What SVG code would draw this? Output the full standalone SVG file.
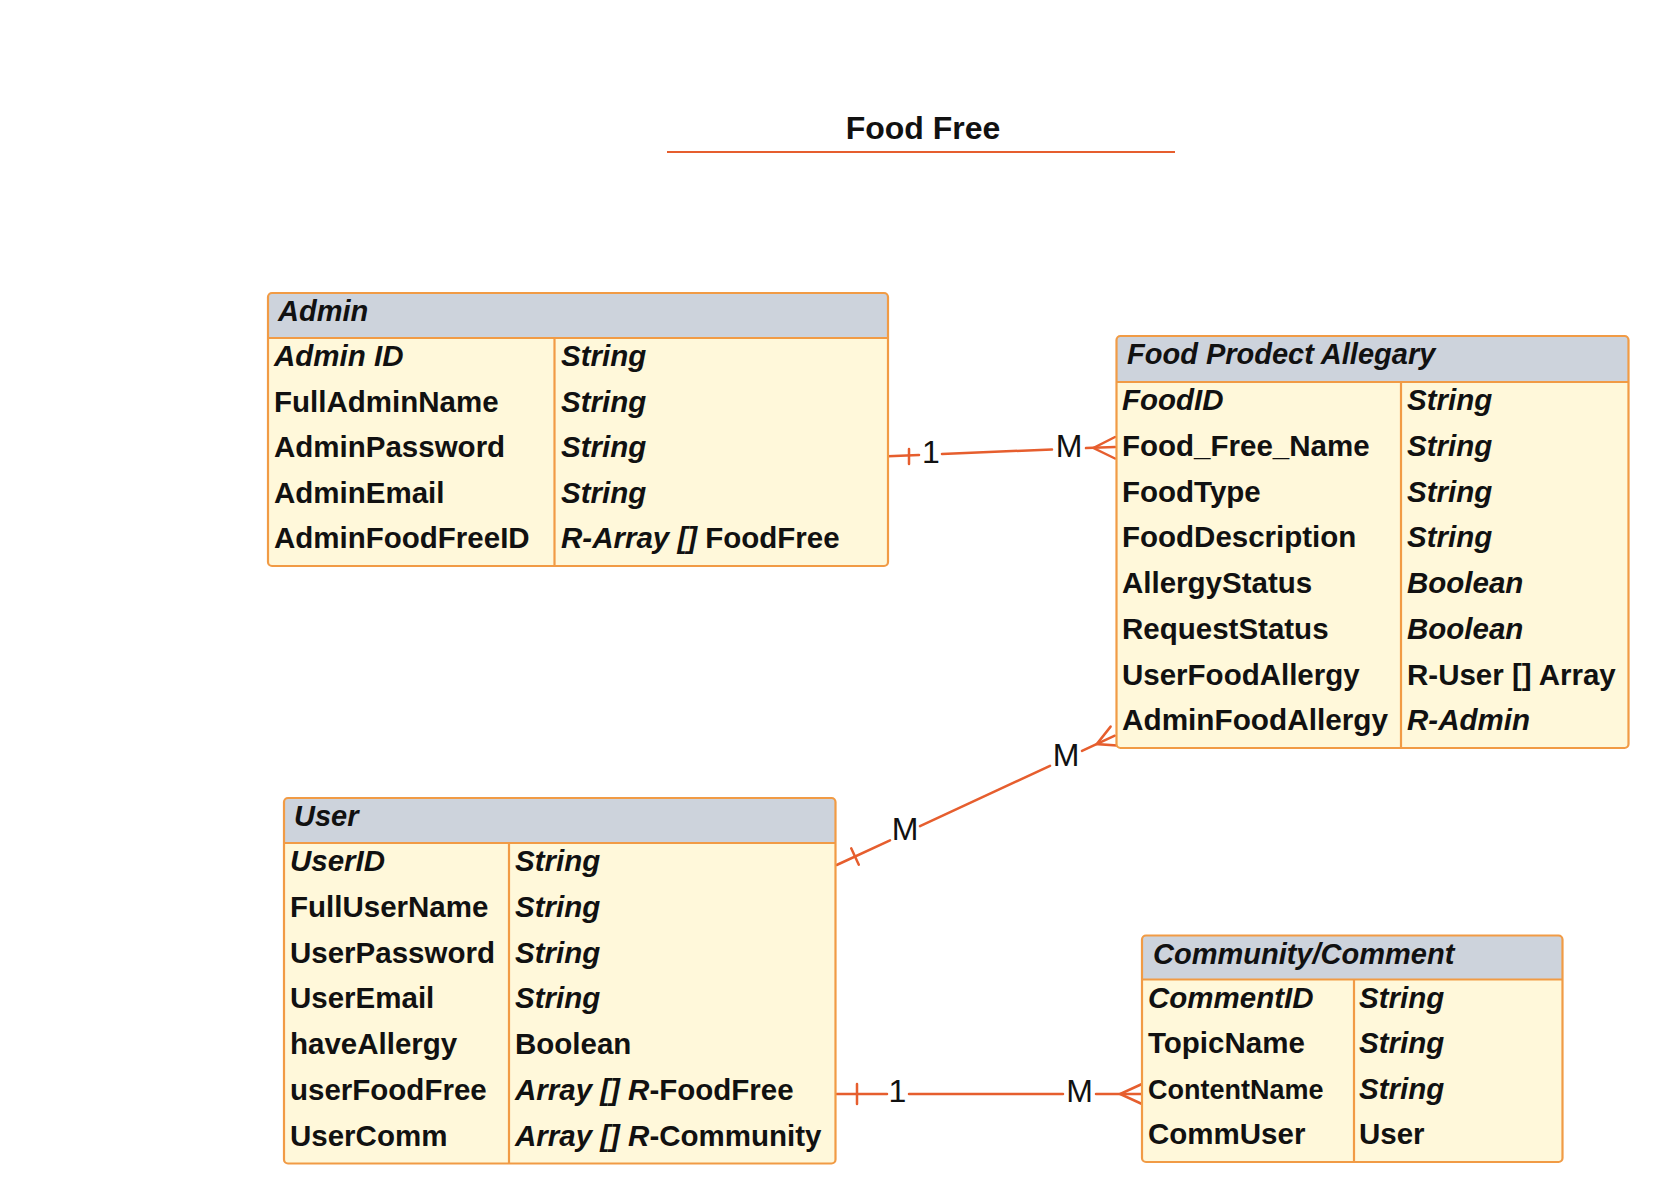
<svg xmlns="http://www.w3.org/2000/svg" width="1669" height="1204" viewBox="0 0 1669 1204">
<style>
.hdr{fill:#CDD3DC}
.body{fill:#FFF8DA}
.out{fill:none;stroke:#F19B45;stroke-width:2.2}
.sep{stroke:#F19B45;stroke-width:2.2}
text{font-family:"Liberation Sans",Arial,sans-serif;font-size:29.5px;font-weight:bold;fill:#111}
.h{font-size:29px}
.i{font-style:italic}
.lbl{font-weight:normal;font-size:32px;text-anchor:middle}
.title{font-size:32px;text-anchor:middle}
.cn{fill:none;stroke:#E65E2E;stroke-width:2.5;stroke-linecap:round}
</style>
<rect width="1669" height="1204" fill="#ffffff"/>
<g id="title">
<text class="title" x="923" y="139">Food Free</text>
<line x1="667" y1="152" x2="1175" y2="152" stroke="#E65E2E" stroke-width="2.2"/>
</g>
<g id="connectors">
<path class="cn" d="M888,456.2 L919,454.9 M942,453.9 L1052,449.5 M1086,448.1 L1115,447"/>
<path class="cn" d="M909,449 L909,464"/>
<path class="cn" d="M1115,437 L1093.5,448 L1115,458.5"/>
<text class="lbl" x="931" y="463">1</text>
<text class="lbl" x="1069" y="456.5">M</text>
<path class="cn" d="M836.7,865 L890,840.3 M920,826.2 L1050,765.9 M1082,750.9 L1114.8,735.7"/>
<path class="cn" d="M851.2,848.3 L858.8,864.7"/>
<path class="cn" d="M1110.6,726.6 L1096.7,744.1 L1117,745.5"/>
<text class="lbl" x="905" y="839.5">M</text>
<text class="lbl" x="1066" y="765.5">M</text>
<path class="cn" d="M836.7,1094 L887,1094 M909,1094 L1063,1094 M1096,1094 L1142,1094"/>
<path class="cn" d="M857,1084 L857,1104"/>
<path class="cn" d="M1142,1084 L1120,1094 L1142,1104"/>
<text class="lbl" x="897.5" y="1102">1</text>
<text class="lbl" x="1079.5" y="1102">M</text>
</g>
<g id="admin">
<rect class="body" x="268" y="293" width="620" height="273" rx="4"/>
<path class="hdr" d="M268,338 V297 Q268,293 272,293 H884 Q888,293 888,297 V338 Z"/>
<line class="sep" x1="268" y1="338" x2="888" y2="338"/>
<line class="sep" x1="554.5" y1="338" x2="554.5" y2="566"/>
<rect class="out" x="268" y="293" width="620" height="273" rx="4"/>
<text class="i h" x="278" y="321">Admin</text>
<text class="i" x="274" y="366">Admin ID</text>
<text x="274" y="411.6">FullAdminName</text>
<text x="274" y="457.2">AdminPassword</text>
<text x="274" y="502.8">AdminEmail</text>
<text x="274" y="548.4">AdminFoodFreeID</text>
<text class="i" x="561" y="366">String</text>
<text class="i" x="561" y="411.6">String</text>
<text class="i" x="561" y="457.2">String</text>
<text class="i" x="561" y="502.8">String</text>
<text x="561" y="548.4"><tspan class="i">R-Array []</tspan> FoodFree</text>
</g>
<g id="food">
<rect class="body" x="1116.5" y="336" width="512" height="412" rx="4"/>
<path class="hdr" d="M1116.5,382 V340 Q1116.5,336 1120.5,336 H1624.5 Q1628.5,336 1628.5,340 V382 Z"/>
<line class="sep" x1="1116.5" y1="382" x2="1628.5" y2="382"/>
<line class="sep" x1="1401" y1="382" x2="1401" y2="748"/>
<rect class="out" x="1116.5" y="336" width="512" height="412" rx="4"/>
<text class="i h" x="1127" y="364">Food Prodect Allegary</text>
<text class="i" x="1122" y="410">FoodID</text>
<text x="1122" y="455.75">Food_Free_Name</text>
<text x="1122" y="501.5">FoodType</text>
<text x="1122" y="547.25">FoodDescription</text>
<text x="1122" y="593">AllergyStatus</text>
<text x="1122" y="638.75">RequestStatus</text>
<text x="1122" y="684.5">UserFoodAllergy</text>
<text x="1122" y="730.25" textLength="266" lengthAdjust="spacingAndGlyphs">AdminFoodAllergy</text>
<text class="i" x="1407" y="410">String</text>
<text class="i" x="1407" y="455.75">String</text>
<text class="i" x="1407" y="501.5">String</text>
<text class="i" x="1407" y="547.25">String</text>
<text class="i" x="1407" y="593">Boolean</text>
<text class="i" x="1407" y="638.75">Boolean</text>
<text x="1407" y="684.5">R-User [] Array</text>
<text class="i" x="1407" y="730.25">R-Admin</text>
</g>
<g id="user">
<rect class="body" x="284" y="798" width="551.5" height="365.5" rx="4"/>
<path class="hdr" d="M284,843 V802 Q284,798 288,798 H831.5 Q835.5,798 835.5,802 V843 Z"/>
<line class="sep" x1="284" y1="843" x2="835.5" y2="843"/>
<line class="sep" x1="509" y1="843" x2="509" y2="1163.5"/>
<rect class="out" x="284" y="798" width="551.5" height="365.5" rx="4"/>
<text class="i h" x="294" y="826">User</text>
<text class="i" x="290" y="871">UserID</text>
<text x="290" y="916.8">FullUserName</text>
<text x="290" y="962.6">UserPassword</text>
<text x="290" y="1008.4">UserEmail</text>
<text x="290" y="1054.2">haveAllergy</text>
<text x="290" y="1100">userFoodFree</text>
<text x="290" y="1145.8">UserComm</text>
<text class="i" x="515" y="871">String</text>
<text class="i" x="515" y="916.8">String</text>
<text class="i" x="515" y="962.6">String</text>
<text class="i" x="515" y="1008.4">String</text>
<text x="515" y="1054.2">Boolean</text>
<text x="515" y="1100"><tspan class="i">Array [] R</tspan>-FoodFree</text>
<text x="515" y="1145.8"><tspan class="i">Array [] R</tspan>-Community</text>
</g>
<g id="community">
<rect class="body" x="1142" y="935.5" width="420.5" height="226.5" rx="4"/>
<path class="hdr" d="M1142,979.5 V939.5 Q1142,935.5 1146,935.5 H1558.5 Q1562.5,935.5 1562.5,939.5 V979.5 Z"/>
<line class="sep" x1="1142" y1="979.5" x2="1562.5" y2="979.5"/>
<line class="sep" x1="1354" y1="979.5" x2="1354" y2="1162"/>
<rect class="out" x="1142" y="935.5" width="420.5" height="226.5" rx="4"/>
<text class="i h" x="1153" y="963.5">Community/Comment</text>
<text class="i" x="1148" y="1007.5">CommentID</text>
<text x="1148" y="1053.1">TopicName</text>
<text x="1148" y="1098.7" style="font-size:27px">ContentName</text>
<text x="1148" y="1144.3">CommUser</text>
<text class="i" x="1359" y="1007.5">String</text>
<text class="i" x="1359" y="1053.1">String</text>
<text class="i" x="1359" y="1098.7">String</text>
<text x="1359" y="1144.3">User</text>
</g>
</svg>
